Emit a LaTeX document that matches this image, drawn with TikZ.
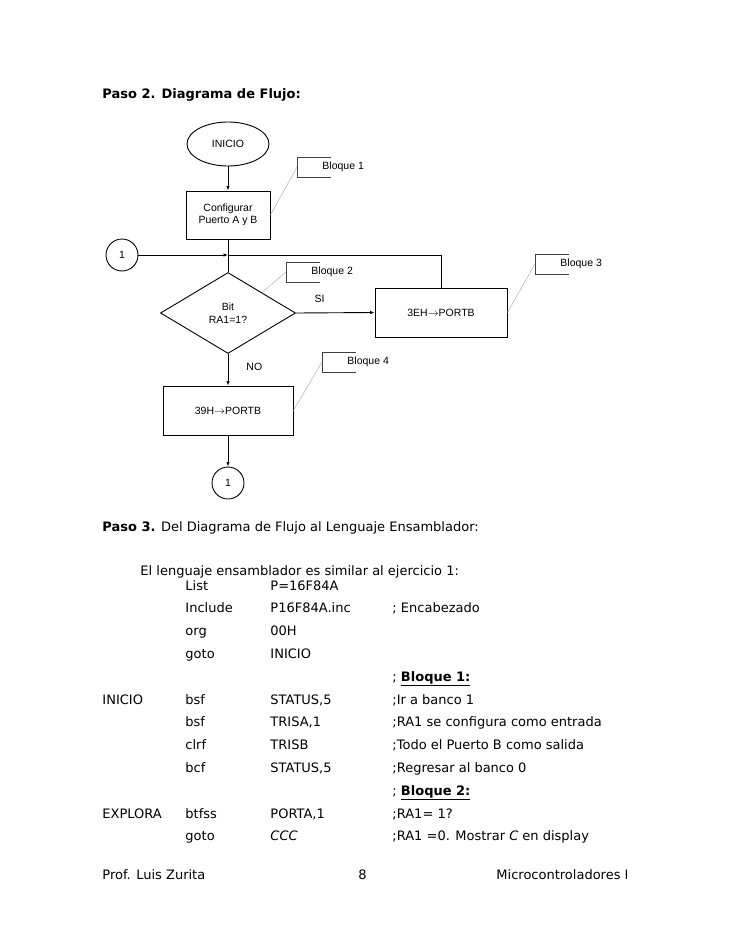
\documentclass[tikz,border=0pt]{standalone}
\usepackage{fontspec}
\setmainfont{DejaVu Sans}
\newfontfamily\arial{Liberation Sans}
\usepackage{tikz}
\usetikzlibrary{shapes.geometric,arrows.meta}
\def\codey{590}
\def\dy{22.8}
\tikzstyle{caja}=[draw,rectangle,line width=0.9pt,align=center,
  font=\arial\fontsize{10.5}{12.5}\selectfont]
\tikzstyle{terminal}=[caja,ellipse,minimum width=82pt,minimum height=44pt]
\tikzstyle{decision}=[caja,diamond,minimum width=135pt,minimum height=81pt,inner sep=0pt]
\tikzstyle{conector}=[caja,circle,minimum size=32pt,inner sep=0pt]
\tikzstyle{guia}=[draw=black!30,line width=0.5pt]
\tikzstyle{etiqueta}=[font=\arial\fontsize{10.5}{12}\selectfont,inner sep=0pt]
\tikzstyle{texto}=[anchor=base west,inner sep=0pt,font=\fontsize{13}{15}\selectfont]
\newcommand{\newBloque}[4]{%
  \coordinate (#1) at #3;
  \draw[line width=0.7pt,black!75] (#1) ++(34,-10) -- ++(-34,0) -- ++(0,20) -- ++(34,0);
  \node[etiqueta,anchor=west] (#1t) at ([xshift=25pt]#1) {#2};
  \draw[guia] (#1) -- (#4);}
\newcommand{\newLinea}[5]{%
  \node[texto] (l#1a) at (102,{\codey+#1*\dy}) {#2};
  \node[texto] (l#1b) at (185,{\codey+#1*\dy}) {#3};
  \node[texto] (l#1c) at (270,{\codey+#1*\dy}) {#4};
  \node[texto] (l#1d) at (392,{\codey+#1*\dy}) {#5};}

\begin{document}
\begin{tikzpicture}[x=1pt,y=-1pt,>={Latex[length=4.5pt,width=3.5pt]},
      line width=0.9pt]
  \useasboundingbox (0,0) rectangle (728,942);
  % titulo
  \node[texto] (paso2) at (102,99) {\textbf{Paso 2. Diagrama de Flujo:}};
  % diagrama de flujo
  \node[terminal] (inicio) at (228,144) {INICIO};
  \node[caja,minimum width=84pt,minimum height=48pt] (conf) at (228,215) {Configurar\\Puerto A y B};
  \node[conector] (c1) at (122,255) {1};
  \coordinate (j) at (228,255);
  \node[decision] (dec) at (228,313) {Bit\\RA1=1?};
  \node[caja,minimum width=132pt,minimum height=49pt] (b3eh) at (441,312.5) {3EH$\rightarrow$PORTB};
  \node[caja,minimum width=130pt,minimum height=49pt] (b39h) at (228,410.5) {39H$\rightarrow$PORTB};
  \node[conector] (c2) at (228,483) {1};
  \draw[->] (inicio) -- (conf);
  \draw (conf) -- (dec);
  \draw[->] (c1) -- (j);
  \draw (b3eh.north) |- (j);
  \draw[->] (dec.east) -- node[etiqueta,above=10pt,pos=0.3] (si) {SI} (b3eh.west);
  \draw[->] (dec.south) -- node[etiqueta,right=18pt,pos=0.4] (no) {NO} (b39h.north);
  \draw[->] (b39h) -- (c2);
  % bloques
  \newBloque{bq1}{Bloque 1}{(297,167)}{conf.east}
  \newBloque{bq2}{Bloque 2}{(286,272)}{dec.north east}
  \newBloque{bq3}{Bloque 3}{(535,264)}{b3eh.east}
  \newBloque{bq4}{Bloque 4}{(322,362)}{b39h.east}
  % paso 3
  \node[texto] (paso3) at (102,531) {\textbf{Paso 3.} Del Diagrama de Flujo al Lenguaje Ensamblador:};
  \node[texto] (intro) at (140,575) {El lenguaje ensamblador es similar al ejercicio 1:};
  \newLinea{0}{}{List}{P=16F84A}{}
  \newLinea{1}{}{Include}{P16F84A.inc}{; Encabezado}
  \newLinea{2}{}{org}{00H}{}
  \newLinea{3}{}{goto}{INICIO}{}
  \newLinea{4}{}{}{}{; \underline{\textbf{Bloque 1:}}}
  \newLinea{5}{INICIO}{bsf}{STATUS,5}{;Ir a banco 1}
  \newLinea{6}{}{bsf}{TRISA,1}{;RA1 se configura como entrada}
  \newLinea{7}{}{clrf}{TRISB}{;Todo el Puerto B como salida}
  \newLinea{8}{}{bcf}{STATUS,5}{;Regresar al banco 0}
  \newLinea{9}{}{}{}{; \underline{\textbf{Bloque 2:}}}
  \newLinea{10}{EXPLORA}{btfss}{PORTA,1}{;RA1= 1?}
  \newLinea{11}{}{goto}{\textit{CCC}}{;RA1 =0. Mostrar \textit{C} en display}
  % pie
  \node[texto] (prof) at (102,879) {Prof. Luis Zurita};
  \node[texto] (pag) at (358,879) {8};
  \node[texto] (curso) at (496,879) {Microcontroladores I};
\end{tikzpicture}
\end{document}
